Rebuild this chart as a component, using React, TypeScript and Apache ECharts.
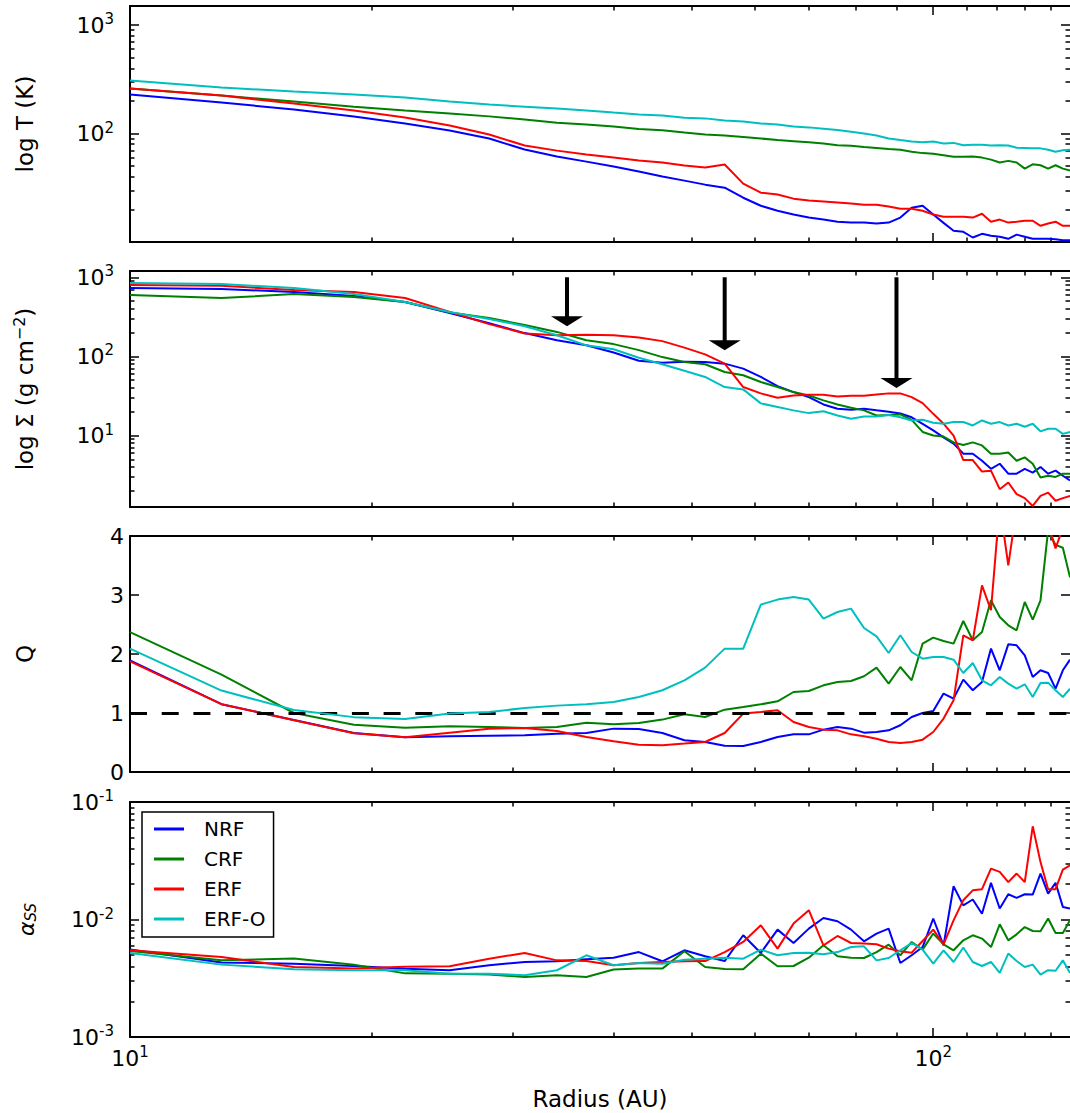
import React, { useEffect, useRef } from 'react';
import * as echarts from 'echarts';

// ---------------- data ----------------
const RADIUS = [10, 13, 16, 19, 22, 25, 28, 31, 34, 37, 40, 43, 46, 49, 52, 55, 58, 61, 64, 67, 70, 73, 76, 79, 82, 85, 88, 91, 94, 97, 100, 103, 106, 109, 112, 115, 118, 121, 124, 127, 130, 133, 136, 139, 142, 145, 148];

const SERIES_NAMES = ['NRF', 'CRF', 'ERF', 'ERF-O'];
const SERIES_COLORS = ['#0000ff', '#008000', '#ff0000', '#00bfbf'];

// Temperature (K)
const T_NRF = [229, 193, 167, 143.5, 123.7, 106.6, 90, 71.2, 61.4, 55.1, 49.6, 44.6, 40.1, 36.8, 33.8, 31.7, 25.6, 21.6, 19.4, 17.9, 16.8, 16.1, 15.4, 15.1, 15.1, 14.8, 15.1, 16.8, 20.7, 21.6, 17.9, 15, 12.7, 12.4, 11, 11.9, 11.4, 11.2, 10.7, 11.7, 11.2, 10.7, 10.7, 10.7, 10.6, 10.4, 10.4];
const T_CRF = [260, 224, 197, 177, 163, 153, 144, 135, 126, 121, 116, 110, 107, 102, 98, 96, 93, 90, 87, 85, 83, 81, 78, 77, 75, 73.5, 72, 71, 68, 66, 65, 63, 61, 61, 61.5, 60, 57.5, 54, 56, 54, 47.5, 52, 51, 47.5, 51, 47.5, 45.5];
const T_ERF = [260, 224, 189, 163, 140.5, 118.5, 98, 77.5, 69.6, 64, 60, 56.3, 54, 50.7, 48.6, 51.8, 34.5, 28.5, 27.4, 25.1, 24.1, 23.6, 23.1, 22.6, 22.1, 22.1, 21.2, 20.3, 20.3, 19.4, 17.9, 17.1, 17.1, 17.1, 16.8, 18.2, 15.4, 16.1, 15.1, 15.4, 15.7, 15.7, 14.1, 14.8, 15.4, 14.1, 14.1];
const T_ERFO = [308, 266, 244, 229, 215, 197, 185, 177, 170, 163, 156, 150, 147, 140, 138, 132, 129, 124, 121, 116, 114, 111, 108, 104, 100, 96, 90, 87, 84.5, 83, 84.5, 81, 82, 78, 79, 79, 77.5, 78, 77.5, 74, 73.5, 73, 73, 71, 68, 70, 71];

// Surface density (g cm^-2)
const S_NRF = [732, 711, 651, 580, 486, 353, 263, 197, 160, 138, 112, 88, 83, 85.5, 85, 81, 70, 55, 42, 35.4, 30.6, 24.7, 21.8, 21.2, 21.8, 20.8, 20, 19, 17, 14, 11.6, 9.5, 7.9, 5.9, 5.9, 4.8, 3.8, 4.4, 3.3, 3.3, 3.8, 3.4, 4.0, 3.3, 3.6, 3.1, 2.7];
const S_CRF = [597, 546, 614, 563, 486, 360, 305, 250, 204, 160, 143, 120, 98, 85, 79.5, 63.5, 57.7, 47.4, 41, 35.4, 32.1, 27.8, 24.7, 22.5, 20.8, 17.9, 18.2, 18.5, 15.8, 11.1, 10, 9.7, 8.2, 7.6, 8.2, 7.5, 5.9, 5.9, 6.1, 4.8, 5.3, 4.4, 2.95, 3.1, 3.0, 3.3, 3.3];
const S_ERF = [798, 780, 690, 651, 546, 365, 256, 195, 185, 188, 185, 173, 156, 129, 106, 81, 41, 34.1, 30.1, 32.1, 32.8, 32.8, 31.2, 31.8, 31.8, 33.1, 34.1, 34.1, 30.6, 25.7, 18.8, 14.1, 10, 4.9, 4.9, 3.5, 3.6, 2.1, 2.55, 1.82, 1.62, 1.29, 1.73, 1.9, 1.5, 1.62, 1.73];
const S_ERFO = [847, 822, 732, 614, 486, 365, 296, 241, 185, 138, 123, 96, 79.5, 66, 55, 41, 38.3, 25.5, 23, 20.8, 19.2, 20.3, 17.9, 16.3, 17.4, 17.4, 18.2, 17, 15.5, 15.8, 14.5, 14.1, 14.8, 14.8, 13.4, 15.5, 14.1, 14.8, 13.4, 14.1, 12.9, 14.1, 11.3, 12.2, 12.2, 10.5, 11.1];

// Toomre Q
const Q_NRF = [1.89, 1.15, 0.88, 0.66, 0.59, 0.605, 0.616, 0.622, 0.65, 0.661, 0.735, 0.729, 0.661, 0.537, 0.509, 0.446, 0.441, 0.509, 0.593, 0.638, 0.638, 0.718, 0.763, 0.735, 0.667, 0.678, 0.706, 0.792, 0.932, 1.0, 1.034, 1.329, 1.244, 1.566, 1.385, 1.525, 2.091, 1.724, 2.164, 2.147, 1.978, 1.61, 1.724, 1.678, 1.413, 1.724, 1.904];
const Q_CRF = [2.37, 1.65, 1.0, 0.8, 0.75, 0.774, 0.763, 0.746, 0.763, 0.836, 0.808, 0.831, 0.888, 0.978, 0.932, 1.057, 1.102, 1.147, 1.198, 1.356, 1.373, 1.469, 1.525, 1.542, 1.622, 1.769, 1.498, 1.78, 1.554, 2.176, 2.278, 2.22, 2.176, 2.559, 2.232, 2.373, 2.91, 2.627, 2.486, 2.402, 2.881, 2.583, 2.91, 4.1, 3.85, 3.8, 3.3];
const Q_ERF = [1.876, 1.15, 0.876, 0.656, 0.588, 0.667, 0.735, 0.746, 0.695, 0.593, 0.52, 0.463, 0.453, 0.481, 0.509, 0.661, 0.99, 1.017, 1.046, 0.847, 0.763, 0.718, 0.706, 0.638, 0.605, 0.565, 0.509, 0.492, 0.509, 0.548, 0.678, 0.905, 1.215, 2.317, 2.232, 3.164, 2.741, 4.54, 3.503, 4.47, 5.2, 5.5, 5.3, 4.19, 3.79, 4.14, 4.6];
const Q_ERFO = [2.09, 1.38, 1.05, 0.93, 0.9, 0.99, 1.017, 1.085, 1.125, 1.147, 1.187, 1.271, 1.385, 1.554, 1.769, 2.091, 2.091, 2.837, 2.922, 2.967, 2.922, 2.6, 2.712, 2.769, 2.441, 2.3, 2.017, 2.317, 2.034, 1.921, 1.949, 1.949, 1.904, 1.678, 1.847, 1.554, 1.469, 1.61, 1.498, 1.413, 1.486, 1.271, 1.508, 1.514, 1.384, 1.271, 1.413];

// alpha_SS
const A_NRF = [5.55e-3, 4.30e-3, 4.21e-3, 4.03e-3, 3.81e-3, 3.70e-3, 4.08e-3, 4.35e-3, 4.41e-3, 4.58e-3, 4.73e-3, 5.28e-3, 4.41e-3, 5.47e-3, 4.86e-3, 4.43e-3, 7.34e-3, 5.19e-3, 8.20e-3, 6.31e-3, 8.36e-3, 0.0103, 9.66e-3, 8.20e-3, 6.52e-3, 7.59e-3, 8.36e-3, 4.26e-3, 4.96e-3, 5.83e-3, 0.0102, 6.03e-3, 0.0192, 0.0132, 0.0148, 0.0112, 0.0205, 0.0124, 0.0164, 0.0153, 0.0164, 0.0163, 0.0246, 0.0166, 0.0205, 0.0128, 0.0124];
const A_CRF = [5.40e-3, 4.50e-3, 4.65e-3, 4.12e-3, 3.48e-3, 3.46e-3, 3.40e-3, 3.24e-3, 3.35e-3, 3.24e-3, 3.75e-3, 3.82e-3, 3.82e-3, 5.36e-3, 3.94e-3, 3.79e-3, 3.77e-3, 5.12e-3, 4.00e-3, 4.02e-3, 4.73e-3, 6.03e-3, 4.86e-3, 4.73e-3, 4.70e-3, 5.28e-3, 6.11e-3, 4.96e-3, 6.44e-3, 5.54e-3, 7.59e-3, 6.15e-3, 5.47e-3, 6.65e-3, 7.34e-3, 6.88e-3, 5.83e-3, 9.10e-3, 6.65e-3, 7.48e-3, 8.63e-3, 7.98e-3, 7.94e-3, 0.0102, 7.68e-3, 7.68e-3, 9.84e-3];
const A_ERF = [5.47e-3, 4.80e-3, 3.94e-3, 3.82e-3, 3.97e-3, 4.00e-3, 4.64e-3, 5.19e-3, 4.49e-3, 4.43e-3, 4.08e-3, 4.26e-3, 4.35e-3, 4.41e-3, 4.43e-3, 5.28e-3, 6.44e-3, 8.93e-3, 5.65e-3, 9.23e-3, 0.0120, 6.03e-3, 7.24e-3, 6.31e-3, 6.24e-3, 6.15e-3, 5.65e-3, 5.36e-3, 5.22e-3, 6.56e-3, 8.20e-3, 6.15e-3, 9.84e-3, 0.0146, 0.0177, 0.0181, 0.0271, 0.0254, 0.0208, 0.0246, 0.0208, 0.0621, 0.0308, 0.0181, 0.0181, 0.0266, 0.0289];
const A_ERFO = [5.19e-3, 4.13e-3, 3.77e-3, 3.70e-3, 3.70e-3, 3.46e-3, 3.46e-3, 3.35e-3, 3.70e-3, 4.96e-3, 4.08e-3, 4.26e-3, 4.21e-3, 4.55e-3, 4.64e-3, 4.73e-3, 4.64e-3, 5.54e-3, 4.96e-3, 5.19e-3, 5.22e-3, 5.06e-3, 5.28e-3, 5.83e-3, 5.91e-3, 4.49e-3, 4.70e-3, 5.47e-3, 6.31e-3, 5.54e-3, 4.21e-3, 5.47e-3, 4.35e-3, 5.77e-3, 4.35e-3, 4.02e-3, 4.35e-3, 3.51e-3, 5.13e-3, 4.43e-3, 3.94e-3, 4.13e-3, 3.40e-3, 3.70e-3, 3.66e-3, 4.49e-3, 3.51e-3];

// arrows in the surface density panel
const ARROW_RADIUS = [35, 55, 90];
const ARROW_FROM = [1000, 1000, 1000];
const ARROW_TO = [240, 120, 40];

// Q = 1 reference line
const Q_CRIT = 1;

// ticks
const X_MAJOR = [10, 100];
const X_MINOR = [20, 30, 40, 50, 60, 70, 80, 90, 110, 120, 130, 140];
const X_LABELS = [10, 100];
const T_MAJOR = [100, 1000];
const T_MINOR = [20, 30, 40, 50, 60, 70, 80, 90, 200, 300, 400, 500, 600, 700, 800, 900];
const T_LABELS = [100, 1000];
const S_MAJOR = [10, 100, 1000];
const S_MINOR = [2, 3, 4, 5, 6, 7, 8, 9, 20, 30, 40, 50, 60, 70, 80, 90, 200, 300, 400, 500, 600, 700, 800, 900];
const S_LABELS = [10, 100, 1000];
const Q_MAJOR = [1, 2, 3];
const Q_LABELS = [0, 1, 2, 3, 4];
const A_MAJOR = [0.01];
const A_MINOR = [0.002, 0.003, 0.004, 0.005, 0.006, 0.007, 0.008, 0.009, 0.02, 0.03, 0.04, 0.05, 0.06, 0.07, 0.08, 0.09];
const A_LABELS = [0.001, 0.01, 0.1];

// ---------------- layout / style ----------------
const FONT = 'DejaVu Sans';
const W = 1070;
const H = 1113;
const GRID_LEFT = 130;
const GRID_WIDTH = 940;
const GRID_TOPS = [6, 271, 536, 802];
const GRID_HEIGHTS = [236, 236, 236, 235];
const X_MIN = 10;
const X_MAX = 148;

const spineStyle = { color: '#000', width: 2 };
const tickStyle = { color: '#000', width: 1.5 };
const MAJOR_LEN = 9;
const MINOR_LEN = 4.5;

const richTick = {
  b: { fontFamily: FONT, fontSize: 22, color: '#000', lineHeight: 22 },
  s: { fontFamily: FONT, fontSize: 15, color: '#000', lineHeight: 15, padding: [0, 0, 12, 0] },
};

function logLabel(v: number) {
  const e = Math.round(Math.log10(v));
  return `{b|10}{s|${e}}`;
}

function makeXAxes(g: number, showLabels: boolean) {
  const common: any = {
    type: 'log', logBase: 10, min: X_MIN, max: X_MAX, gridIndex: g,
    splitLine: { show: false },
  };
  const major = { show: true, inside: true, length: MAJOR_LEN, customValues: X_MAJOR, lineStyle: tickStyle };
  const minor = { show: true, inside: true, length: MINOR_LEN, customValues: X_MINOR, lineStyle: tickStyle };
  const first: any = {
    ...common, position: 'bottom',
    axisLine: { show: true, onZero: false, lineStyle: spineStyle },
    axisTick: major,
    axisLabel: showLabels
      ? { show: true, customValues: X_LABELS, formatter: logLabel, margin: 10, rich: richTick }
      : { show: false },
  };
  if (showLabels) {
    first.name = 'Radius (AU)';
    first.nameLocation = 'middle';
    first.nameGap = 50;
    first.nameTextStyle = { fontFamily: FONT, fontSize: 23, color: '#000' };
  }
  return [
    first,
    { ...common, position: 'bottom', axisLine: { show: false, onZero: false }, axisLabel: { show: false }, axisTick: minor },
    { ...common, position: 'top', axisLine: { show: true, onZero: false, lineStyle: spineStyle }, axisLabel: { show: false }, axisTick: major },
    { ...common, position: 'top', axisLine: { show: false, onZero: false }, axisLabel: { show: false }, axisTick: minor },
  ];
}

interface YSpec {
  type: string; min: number; max: number; major: number[]; minor: number[]; labels: number[];
  log: boolean; name: string; nameGap: number; nameRich?: any; labelMargin: number;
}

function makeYAxes(g: number, s: YSpec) {
  const common: any = { type: s.type, min: s.min, max: s.max, gridIndex: g, splitLine: { show: false } };
  if (s.type === 'log') common.logBase = 10;
  const major = { show: true, inside: true, length: MAJOR_LEN, customValues: s.major, lineStyle: tickStyle };
  const minor = { show: s.minor.length > 0, inside: true, length: MINOR_LEN, customValues: s.minor.length ? s.minor : [s.min], lineStyle: tickStyle };
  const main: any = {
    ...common, position: 'left',
    axisLine: { show: true, onZero: false, lineStyle: spineStyle },
    axisTick: major,
    axisLabel: s.log
      ? { show: true, customValues: s.labels, formatter: logLabel, margin: s.labelMargin, rich: richTick }
      : { show: true, customValues: s.labels, formatter: (v: number) => String(v), margin: s.labelMargin, fontFamily: FONT, fontSize: 22, color: '#000' },
    name: s.name, nameLocation: 'middle', nameGap: s.nameGap, nameRotate: 90,
    nameTextStyle: { fontFamily: FONT, fontSize: 23, color: '#000', rich: s.nameRich },
  };
  return [
    main,
    { ...common, position: 'left', axisLine: { show: false, onZero: false }, axisLabel: { show: false }, axisTick: minor },
    { ...common, position: 'right', axisLine: { show: false, onZero: false }, axisLabel: { show: false }, axisTick: major },
    { ...common, position: 'right', axisLine: { show: false, onZero: false }, axisLabel: { show: false }, axisTick: minor },
  ];
}

const Y_SPECS: YSpec[] = [
  { type: 'log', min: 10, max: 1500, major: T_MAJOR, minor: T_MINOR, labels: T_LABELS, log: true, name: 'log T (K)', nameGap: 94, labelMargin: 16 },
  {
    type: 'log', min: 1.25, max: 1200, major: S_MAJOR, minor: S_MINOR, labels: S_LABELS, log: true,
    name: '{n|log Σ (g cm}{s|−2}{n|)}', nameGap: 92, labelMargin: 16,
    nameRich: {
      n: { fontFamily: FONT, fontSize: 23, color: '#000', lineHeight: 26 },
      s: { fontFamily: FONT, fontSize: 16, color: '#000', lineHeight: 16, padding: [0, 0, 12, 0] },
    },
  },
  { type: 'value', min: 0, max: 4, major: Q_MAJOR, minor: [], labels: Q_LABELS, log: false, name: 'Q', nameGap: 94, labelMargin: 6 },
  {
    type: 'log', min: 0.001, max: 0.1, major: A_MAJOR, minor: A_MINOR, labels: A_LABELS, log: true,
    name: '{a|α}{s|SS}', nameGap: 92, labelMargin: 16,
    nameRich: {
      a: { fontFamily: FONT, fontSize: 22, fontStyle: 'italic', color: '#000', lineHeight: 24 },
      s: { fontFamily: FONT, fontSize: 15, fontStyle: 'italic', color: '#000', lineHeight: 15, padding: [10, 0, 0, 0] },
    },
  },
];

const PANEL_DATA = [
  [T_NRF, T_CRF, T_ERF, T_ERFO],
  [S_NRF, S_CRF, S_ERF, S_ERFO],
  [Q_NRF, Q_CRF, Q_ERF, Q_ERFO],
  [A_NRF, A_CRF, A_ERF, A_ERFO],
];

function buildOption() {
  const grid = GRID_TOPS.map((top, g) => ({
    left: GRID_LEFT, top, width: GRID_WIDTH, height: GRID_HEIGHTS[g],
    containLabel: false, outerBoundsMode: 'none',
  }));
  const xAxis: any[] = [];
  const yAxis: any[] = [];
  for (let g = 0; g < 4; g++) {
    xAxis.push(...makeXAxes(g, g === 3));
    yAxis.push(...makeYAxes(g, Y_SPECS[g]));
  }
  const series: any[] = [];
  PANEL_DATA.forEach((arrs, g) => {
    arrs.forEach((arr, k) => {
      const s: any = {
        type: 'line', name: SERIES_NAMES[k],
        xAxisIndex: 4 * g, yAxisIndex: 4 * g,
        data: RADIUS.map((r, i) => [r, arr[i]]),
        showSymbol: false, symbol: 'none',
        color: SERIES_COLORS[k],
        lineStyle: { color: SERIES_COLORS[k], width: 2 },
        emphasis: { disabled: true },
        clip: true,
        z: 2 + k,
      };
      if (g === 2 && k === 0) {
        s.markLine = {
          silent: true, symbol: ['none', 'none'], label: { show: false },
          lineStyle: { color: '#000', width: 3, type: [17, 14.7] },
          emphasis: { disabled: true },
          data: [{ yAxis: Q_CRIT }],
        };
      }
      series.push(s);
    });
  });
  series.push({
    type: 'custom', name: 'arrows', xAxisIndex: 4, yAxisIndex: 4, z: 10,
    data: ARROW_RADIUS.map((r, i) => [r, ARROW_FROM[i], ARROW_TO[i]]),
    encode: { x: 0, y: [1, 2] },
    renderItem: (params: any, api: any) => {
      const x = api.value(0);
      const p0 = api.coord([x, api.value(1)]);
      const p1 = api.coord([x, api.value(2)]);
      const headH = 10, headW = 16, shaftW = 4;
      return {
        type: 'group',
        children: [
          { type: 'rect', shape: { x: p0[0] - shaftW / 2, y: p0[1], width: shaftW, height: p1[1] - headH - p0[1] + 1 }, style: { fill: '#000' } },
          { type: 'polygon', shape: { points: [[p1[0] - headW, p1[1] - headH], [p1[0] + headW, p1[1] - headH], [p1[0], p1[1]]] }, style: { fill: '#000' } },
        ],
      };
    },
  });
  return {
    animation: false,
    backgroundColor: '#fff',
    textStyle: { fontFamily: FONT },
    grid,
    xAxis,
    yAxis,
    legend: {
      data: SERIES_NAMES, orient: 'vertical', left: 142, top: 812,
      icon: 'rect', itemWidth: 30, itemHeight: 3, itemGap: 10,
      padding: [7, 8, 8, 12], borderColor: '#000', borderWidth: 1.5, borderRadius: 0,
      backgroundColor: '#fff', selectedMode: false, z: 20,
      textStyle: { fontFamily: FONT, fontSize: 20, color: '#000', lineHeight: 20, padding: [0, 0, 0, 15] },
    },
    series,
  };
}

export default function App() {
  const ref = useRef<HTMLDivElement>(null);
  useEffect(() => {
    if (!ref.current) return;
    const chart = echarts.init(ref.current, null, { renderer: 'svg' });
    chart.setOption(buildOption() as any);
    return () => chart.dispose();
  }, []);
  return <div ref={ref} style={{ position: 'absolute', left: 0, top: 0, width: W, height: H, background: '#fff' }} />;
}
